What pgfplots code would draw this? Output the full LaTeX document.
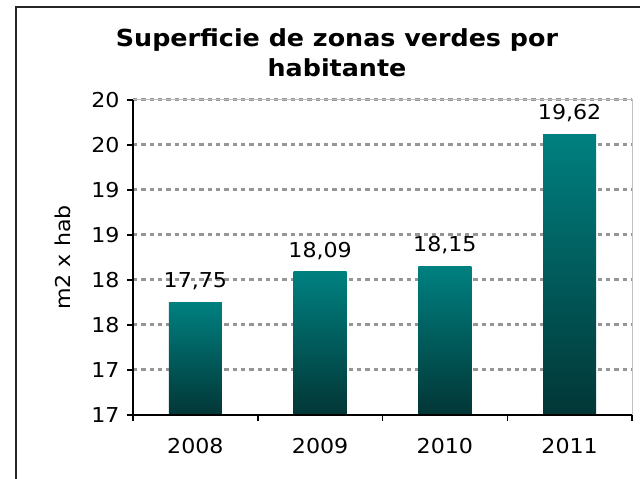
\documentclass[border=0pt]{standalone}
\usepackage{pgfplots}
\pgfplotsset{compat=1.18}
\usepackage{fontspec}
\setmainfont{DejaVu Sans}[FakeStretch=1.08]
\definecolor{barTop}{HTML}{008080}
\definecolor{barMid}{HTML}{006868}
\definecolor{barBot}{HTML}{023636}
\definecolor{gridgray}{HTML}{969696}
\definecolor{boxgray}{HTML}{C0C0C0}
\newcommand{\lblfont}{\fontsize{20.5bp}{24bp}\selectfont}
\begin{document}
\begin{tikzpicture}[x=1bp,y=1bp]
\useasboundingbox (0,0) rectangle (640,479);
\fill[white] (0,0) rectangle (640,479);
\begin{scope}
\clip (0,0) rectangle (640,479);
\draw[line width=1.2bp, black!85] (16,-10) rectangle (660,472);
\end{scope}
\node[anchor=base, font=\fontsize{23.5bp}{28bp}\selectfont\bfseries] at (337,432) {Superficie de zonas verdes por};
\node[anchor=base, font=\fontsize{23.5bp}{28bp}\selectfont\bfseries] at (337,402) {habitante};
\begin{axis}[
  at={(133bp,64bp)}, anchor=south west,
  scale only axis, width=499bp, height=315bp,
  xmin=-0.5, xmax=3.5, ymin=16.5, ymax=20,
  ybar, bar width=53bp, bar shift=0pt,
  clip=false,
  xtick={0,1,2,3}, xticklabels={2008,2009,2010,2011},
  minor xtick={-0.5,0.5,1.5,2.5,3.5},
  ytick={17,17.5,18,18.5,19,19.5,20},
  yticklabels={17,18,18,19,19,20,20},
  extra y ticks={16.5}, extra y tick labels={17},
  extra y tick style={grid=none},
  tick pos=left, tick align=outside,
  major tick length=6bp, minor tick length=6bp,
  tick style={black, line width=1.5bp},
  major x tick style={draw=none},
  ymajorgrids=true,
  every axis grid/.style={draw=gridgray, line width=3bp, dash pattern=on 4.3bp off 4bp},
  every major grid/.style={draw=gridgray, line width=3bp, dash pattern=on 4.3bp off 4bp},
  axis line style={boxgray, line width=1bp},
  tick label style={font=\lblfont, black},
  xticklabel style={yshift=-14bp},
  yticklabel style={xshift=-4bp},
  /pgf/number format/assume math mode=true,
  ylabel={m2 x hab},
  every axis y label/.style={at={(axis description cs:-0.14,0.5)}, rotate=90, anchor=center, font=\lblfont},
  nodes near coords={\pgfmathprintnumber[fixed,fixed zerofill,precision=2,use comma]{\pgfplotspointmeta}},
  every node near coord/.append style={anchor=base, yshift=14.5bp, font=\lblfont, black},
  barstyle/.style={draw=none, top color=barTop, middle color=barMid, bottom color=barBot, shading=axis},
]
\addplot[barstyle] coordinates {(0,17.75)};
\addplot[barstyle] coordinates {(1,18.09)};
\addplot[barstyle] coordinates {(2,18.15)};
\addplot[barstyle] coordinates {(3,19.62)};
\draw[black, line width=2bp] (rel axis cs:0,1) -- (rel axis cs:0,0) -- (rel axis cs:1,0);
\end{axis}
\end{tikzpicture}
\end{document}
